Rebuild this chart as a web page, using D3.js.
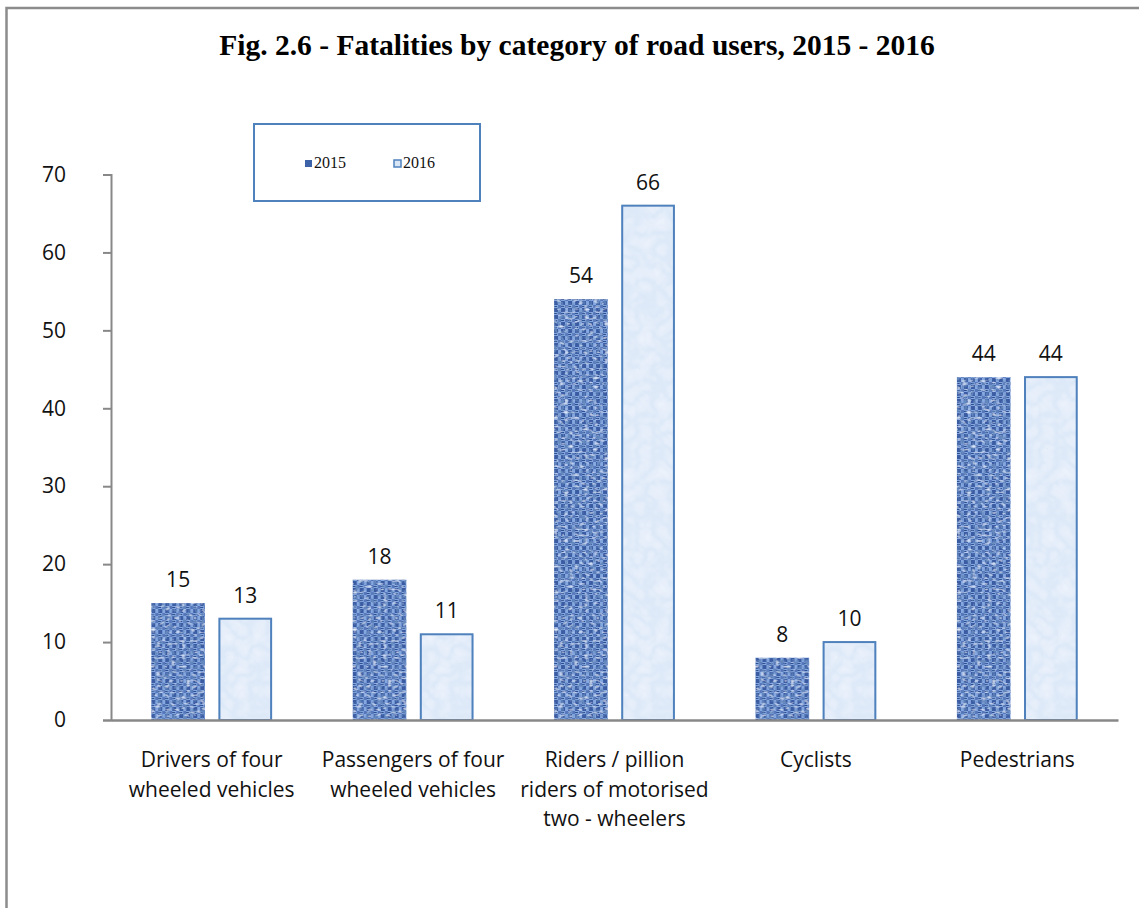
<!DOCTYPE html>
<html>
<head>
<meta charset="utf-8">
<script src="https://cdn.jsdelivr.net/npm/d3@7"></script>
<style>
  body { margin: 0; background: #fff; }
  svg { display: block; }
</style>
</head>
<body>
<script>
// data
var categories = [
  ["Drivers of four", "wheeled vehicles"],
  ["Passengers of four", "wheeled vehicles"],
  ["Riders / pillion", "riders of motorised", "two - wheelers"],
  ["Cyclists"],
  ["Pedestrians"]
];
var seriesNames = ["2015", "2016"];
var values2015 = [15, 18, 54, 8, 44];
var values2016 = [13, 11, 66, 10, 44];
var yTicks = [0, 10, 20, 30, 40, 50, 60, 70];

var W = 1139, H = 908;
var axisFont = "'Open Sans', sans-serif";
var axisSize = 21;

var svg = d3.select("body").append("svg")
    .attr("width", W)
    .attr("height", H);

var defs = svg.append("defs");

// woven checker base for 2015 bars
var pat = defs.append("pattern").attr("id", "weavePat")
    .attr("patternUnits", "userSpaceOnUse")
    .attr("width", 7).attr("height", 7);
pat.append("rect").attr("width", 7).attr("height", 7).attr("fill", "#86a8e0");
pat.append("rect").attr("width", 4).attr("height", 4).attr("fill", "#3a5ca3");
pat.append("rect").attr("x", 4).attr("y", 4).attr("width", 3).attr("height", 3).attr("fill", "#5778bb");
pat.append("rect").attr("x", 0).attr("y", 5).attr("width", 3).attr("height", 1).attr("fill", "#2f4f90");

// noise on top of the checker
var f1 = defs.append("filter").attr("id", "weave")
    .attr("x", 0).attr("y", 0).attr("width", 1).attr("height", 1);
f1.append("feTurbulence")
    .attr("type", "fractalNoise")
    .attr("baseFrequency", "0.28 0.2")
    .attr("numOctaves", 2)
    .attr("seed", 3)
    .attr("result", "noise");
f1.append("feColorMatrix")
    .attr("in", "noise")
    .attr("type", "matrix")
    .attr("values", "0 0 0 0 0.13  0 0 0 0 0.25  0 0 0 0 0.52  -3.4 0 0 0 1.8")
    .attr("result", "dark");
f1.append("feComposite")
    .attr("in", "dark").attr("in2", "SourceGraphic")
    .attr("operator", "atop")
    .attr("result", "d1");
f1.append("feTurbulence")
    .attr("type", "fractalNoise")
    .attr("baseFrequency", "0.2 0.35")
    .attr("numOctaves", 1)
    .attr("seed", 11)
    .attr("result", "noise2");
f1.append("feColorMatrix")
    .attr("in", "noise2")
    .attr("type", "matrix")
    .attr("values", "0 0 0 0 0.75  0 0 0 0 0.85  0 0 0 0 1  3.5 0 0 0 -2.0")
    .attr("result", "light");
f1.append("feComposite")
    .attr("in", "light").attr("in2", "d1")
    .attr("operator", "atop");

// soft marble texture for 2016 bars
var f2 = defs.append("filter").attr("id", "marble")
    .attr("x", 0).attr("y", 0).attr("width", 1).attr("height", 1);
f2.append("feTurbulence")
    .attr("type", "turbulence")
    .attr("baseFrequency", "0.06")
    .attr("numOctaves", 2)
    .attr("seed", 7)
    .attr("result", "noise");
f2.append("feColorMatrix")
    .attr("in", "noise")
    .attr("type", "matrix")
    .attr("values", "0 0 0 0 1  0 0 0 0 1  0 0 0 0 1  0.6 0 0 0 0")
    .attr("result", "light");
f2.append("feComposite")
    .attr("in", "light").attr("in2", "SourceGraphic")
    .attr("operator", "atop");

// outer frame (runs off the right and bottom edges)
svg.append("rect")
    .attr("x", 6.5)
    .attr("y", 8)
    .attr("width", W + 20)
    .attr("height", H + 20)
    .attr("fill", "none")
    .attr("stroke", "#8c8c8c")
    .attr("stroke-width", 2.5);

// title
svg.append("text")
    .attr("x", 577)
    .attr("y", 55)
    .attr("text-anchor", "middle")
    .attr("font-family", "'Liberation Serif', 'Times New Roman', serif")
    .attr("font-weight", "bold")
    .attr("font-size", 29.5)
    .text("Fig. 2.6 - Fatalities by category of road users, 2015 - 2016");

// plot area
var plotLeft = 111, plotRight = 1118, plotTop = 174.5, plotBottom = 720;

var x0 = d3.scaleBand()
    .domain(d3.range(categories.length))
    .range([plotLeft, plotRight])
    .paddingInner(0.4)
    .paddingOuter(0.2);

var x1 = d3.scaleBand()
    .domain(seriesNames)
    .range([0, x0.bandwidth()])
    .paddingInner(0.2);

var y = d3.scaleLinear()
    .domain([0, 70])
    .range([plotBottom, plotTop]);

var rows = categories.map(function(c, i) {
  return [
    {key: "2015", cat: i, v: values2015[i]},
    {key: "2016", cat: i, v: values2016[i]}
  ];
});

// bars
var groups = svg.append("g").selectAll("g")
    .data(rows)
    .join("g")
    .attr("transform", function(d, i) { return "translate(" + x0(i) + ",0)"; });

groups.selectAll("rect.bar")
    .data(function(d) { return d; })
    .join("rect")
    .attr("class", "bar")
    .attr("x", function(d) { return x1(d.key); })
    .attr("y", function(d) { return y(d.v); })
    .attr("width", x1.bandwidth())
    .attr("height", function(d) { return plotBottom - y(d.v); })
    .attr("fill", function(d) { return d.key == "2015" ? "url(#weavePat)" : "#dce8f8"; })
    .attr("filter", function(d) { return d.key == "2015" ? "url(#weave)" : "url(#marble)"; });

// 2016 outlines on top of the filtered fill
groups.selectAll("rect.edge")
    .data(function(d) { return d.filter(function(e) { return e.key == "2016"; }); })
    .join("rect")
    .attr("class", "edge")
    .attr("x", function(d) { return x1(d.key) + 1; })
    .attr("y", function(d) { return y(d.v); })
    .attr("width", x1.bandwidth() - 2)
    .attr("height", function(d) { return plotBottom - y(d.v); })
    .attr("fill", "none")
    .attr("stroke", "#4f81bd")
    .attr("stroke-width", 2);

// value labels
groups.selectAll("text")
    .data(function(d) { return d; })
    .join("text")
    .attr("x", function(d) { return x1(d.key) + x1.bandwidth() / 2; })
    .attr("y", function(d) { return y(d.v) - 16; })
    .attr("text-anchor", "middle")
    .attr("font-family", axisFont)
    .attr("font-size", axisSize)
    .attr("fill", "#111")
    .text(function(d) { return d.v; });

// y axis
var yAxis = svg.append("g")
    .attr("transform", "translate(" + plotLeft + ",0)")
    .call(d3.axisLeft(y).tickValues(yTicks).tickSize(8).tickPadding(37));
yAxis.select(".domain").attr("stroke", "#888").attr("stroke-width", 2);
yAxis.selectAll(".tick line").attr("stroke", "#888").attr("stroke-width", 2);
yAxis.selectAll(".tick text")
    .attr("font-family", axisFont)
    .attr("font-size", axisSize)
    .attr("fill", "#111");

// x axis baseline
var xAxis = svg.append("g")
    .attr("transform", "translate(0," + plotBottom + ")")
    .call(d3.axisBottom(x0).tickSize(0).tickFormat(""));
xAxis.select(".domain").attr("stroke", "#888").attr("stroke-width", 2.5);

// category labels
var catLabels = svg.append("g").selectAll("text")
    .data(categories)
    .join("text")
    .attr("x", function(d, i) { return x0(i) + x0.bandwidth() / 2; })
    .attr("y", 767)
    .attr("text-anchor", "middle")
    .attr("font-family", axisFont)
    .attr("font-size", axisSize)
    .attr("fill", "#111");
catLabels.selectAll("tspan")
    .data(function(d) { return d; })
    .join("tspan")
    .attr("x", function() { return this.parentNode.getAttribute("x"); })
    .attr("dy", function(d, i) { return i == 0 ? 0 : 29.5; })
    .text(function(d) { return d; });

// legend
var legend = svg.append("g");
legend.append("rect")
    .attr("x", 254)
    .attr("y", 124)
    .attr("width", 226)
    .attr("height", 77)
    .attr("fill", "#fff")
    .attr("stroke", "#4f81bd")
    .attr("stroke-width", 2);

var legendX = [305, 394];
seriesNames.forEach(function(s, i) {
  legend.append("rect")
      .attr("x", legendX[i])
      .attr("y", 160)
      .attr("width", 7)
      .attr("height", 7)
      .attr("fill", i == 0 ? "#3d62a8" : "#d9e6f6")
      .attr("stroke", i == 0 ? "none" : "#4f81bd")
      .attr("stroke-width", 1.5);
  legend.append("text")
      .attr("x", legendX[i] + 9)
      .attr("y", 168)
      .attr("font-family", "'Liberation Serif', 'Times New Roman', serif")
      .attr("font-size", 16)
      .attr("fill", "#111")
      .text(s);
});
</script>
</body>
</html>
